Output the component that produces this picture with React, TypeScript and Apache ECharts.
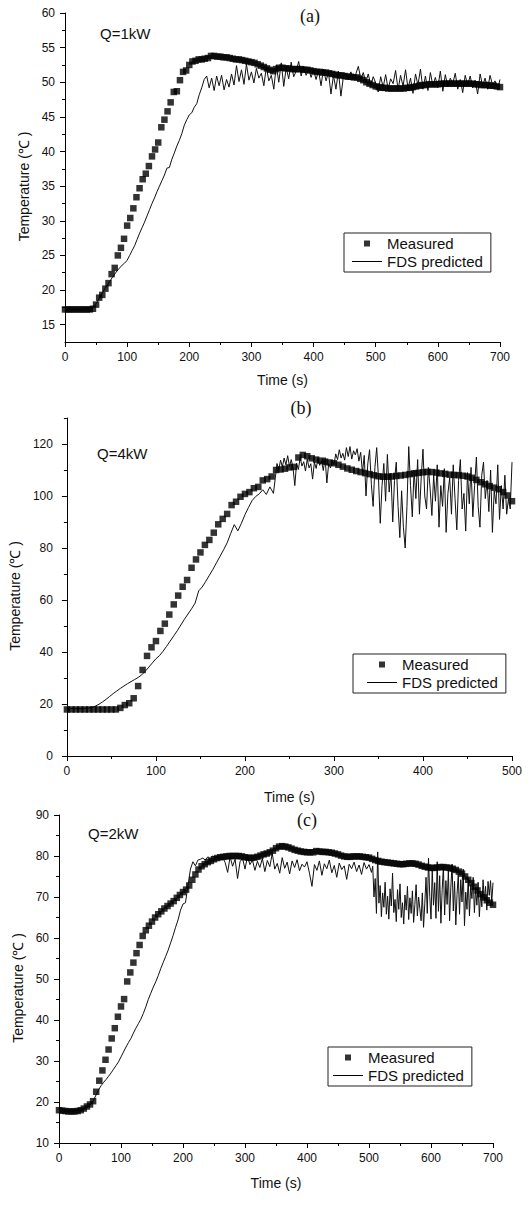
import React, { useEffect, useRef } from 'react';
import * as echarts from 'echarts';

const MEAS_STEP = 5;
const FDS_STEP = 4;
const NOISE_STEP = 2;

// ---- Panel (a) Q=1kW ----
const measuredA = [
  17.2, 17.2, 17.2, 17.2, 17.2, 17.2, 17.2, 17.2, 17.2, 17.3,
  17.9, 18.9, 19.3, 20.2, 21.0, 22.3, 23.2, 25.0, 26.1, 27.4,
  29.3, 30.4, 31.8, 33.4, 34.7, 36.0, 36.8, 37.9, 39.3, 40.3,
  41.3, 43.5, 44.6, 45.8, 47.1, 48.6, 48.7, 50.3, 51.5, 51.7,
  52.5, 53.0, 53.1, 53.3, 53.3, 53.4, 53.5, 53.8, 53.8, 53.7,
  53.7, 53.6, 53.6, 53.5, 53.4, 53.3, 53.3, 53.2, 53.1, 53.0,
  52.9, 52.8, 52.6, 52.4, 52.2, 52.0, 51.8, 51.6, 51.9, 52.1,
  52.1, 52.0, 52.0, 51.9, 51.9, 51.9, 51.9, 51.8, 51.8, 51.7,
  51.6, 51.5, 51.5, 51.4, 51.4, 51.3, 51.2, 51.1, 51.0, 51.0,
  50.9, 50.8, 50.8, 50.7, 50.7, 50.5, 50.3, 50.0, 49.8, 49.6,
  49.4, 49.3, 49.2, 49.2, 49.1, 49.1, 49.1, 49.1, 49.1, 49.1,
  49.2, 49.2, 49.3, 49.4, 49.5, 49.6, 49.6, 49.7, 49.7, 49.7,
  49.7, 49.8, 49.8, 49.8, 49.8, 49.8, 49.8, 49.8, 49.8, 49.8,
  49.8, 49.8, 49.7, 49.7, 49.6, 49.6, 49.6, 49.5, 49.5, 49.4,
  49.3,
];
const fdsA = [
  17.2, 17.2, 17.2, 17.2, 17.2, 17.2, 17.2, 17.2, 17.3, 17.3, 17.4, 17.5,
  17.8, 18.3, 19.0, 19.6, 20.2, 20.7, 21.2, 21.8, 22.3, 22.8,
  23.2, 23.6, 23.9, 24.3, 25.0, 25.7, 26.4, 27.3, 28.2, 29.0,
  29.8, 30.7, 31.6, 32.5, 33.3, 34.2, 35.0, 35.8, 36.6, 37.6,
  37.7, 38.9, 39.8, 40.8, 41.6, 42.6, 43.8, 44.6, 45.3, 45.6,
  46.4, 46.9, 48.2, 49.2, 50.4, 50.9,
  49.2, 50.6, 48.8, 50.9, 49.5, 51.0, 48.9, 50.4, 49.3, 51.2,
  49.6, 52.4, 50.1, 51.8, 49.7, 52.6, 50.3, 51.5, 49.9, 52.0, 50.6, 51.3, 49.5, 52.2, 50.2, 51.0,
  49.0, 52.5, 50.0, 52.8, 49.4, 52.1, 50.5, 52.9, 50.8, 51.6,
  53.0, 50.9, 52.3, 51.0, 52.0, 50.7, 51.8, 50.4, 51.7, 49.5, 51.9, 50.2, 51.4, 48.3, 51.0, 49.0, 51.6, 48.0, 50.8,
  51.3, 50.4, 51.5, 50.6, 51.2, 52.3, 50.5, 51.4, 50.0, 51.2, 49.6, 50.8, 49.9,
  48.6, 50.8, 49.3, 51.1, 49.0, 50.5, 49.8, 51.7, 48.9, 51.0,
  49.4, 51.8, 49.1, 50.6, 48.4, 51.2, 49.6, 51.9, 49.0, 50.9,
  48.8, 51.4, 49.5, 50.7, 49.2, 51.6, 48.7, 51.1, 49.4, 50.6,
  49.8, 51.3, 49.0, 50.4, 48.5, 51.0, 49.6, 50.9, 49.2, 50.3,
  48.3, 51.2, 49.5, 50.6, 49.0, 51.0, 49.6, 50.2, 49.0, 50.4,
];
const fdsANoise: number[] = [];
const yLabelsA = [15, 20, 25, 30, 35, 40, 45, 50, 55, 60];
const yMinorA = [17.5, 22.5, 27.5, 32.5, 37.5, 42.5, 47.5, 52.5, 57.5];

// ---- Panel (b) Q=4kW ----
const measuredB = [
  17.9, 17.9, 17.9, 17.9, 17.9, 17.9, 17.9, 17.9, 17.9, 17.9, 17.9, 17.9,
  18.5, 19.6, 20.3, 22.2, 26.9, 33.1, 38.5, 41.8, 44.2, 48.1,
  50.9, 54.4, 58.3, 61.7, 65.1, 67.7, 72.4, 75.6, 78.3, 81.2,
  83.1, 85.9, 89.1, 91.2, 93.1, 96.5, 97.8, 99.7, 100.8, 101.5,
  103.0, 103.5, 106.0, 106.5, 107.5, 110.0, 110.2, 110.5, 111.0, 111.2,
  114.8, 115.8, 115.3, 114.5, 114.0, 113.6, 113.2, 112.9, 112.6, 112.0,
  111.3, 110.6, 110.1, 109.6, 109.2, 108.8, 108.4, 108.0, 107.6, 107.4,
  107.4, 107.5, 107.7, 107.9, 108.1, 108.4, 108.7, 108.9, 109.1, 109.3,
  109.2, 109.0, 108.7, 108.5, 108.2, 108.1, 108.0, 107.8, 107.5, 107.0,
  106.2, 105.3, 104.5, 103.8, 103.2, 102.6, 101.5, 100.2, 98.0,
];
const fdsB = [
  18.2, 18.2, 18.2, 18.2, 18.2, 18.3, 18.4, 18.7, 19.2, 19.9,
  20.8, 21.8, 22.9, 24.0, 25.0, 26.0, 26.9, 27.8, 28.6, 29.4,
  30.2, 31.2, 32.6, 34.2, 35.8, 37.4, 38.6, 40.3, 42.2, 44.2,
  46.2, 48.2, 50.4, 52.6, 54.6, 56.6, 58.8, 63.5, 65.0, 67.2,
  69.5, 71.8, 74.3, 76.8, 79.3, 82.0, 85.6, 89.0, 86.6, 89.5,
  92.8, 95.6, 98.2, 99.8, 100.8, 102.4, 100.6, 103.5, 101.0,
];
// from t = 236 s, every 2 s
const fdsBNoise = [
  112.5, 110.0, 113.8, 111.2, 114.6, 112.0, 115.5, 111.4, 114.0, 110.8,
  104.0, 112.6, 110.2, 114.8, 111.5, 113.2, 109.6, 114.2, 110.8, 112.4,
  106.5, 113.0, 110.6, 114.4, 111.8, 113.6, 109.8, 114.8, 105.0, 112.4,
  110.8, 113.6, 112.0, 116.2, 114.0, 117.8, 114.6, 116.4, 113.8, 118.6,
  115.2, 119.0, 114.2, 117.4, 115.8, 118.2, 113.4, 116.8, 109.0, 115.6,
  100.0, 112.4, 117.8, 104.5, 96.0, 111.0, 118.6, 107.0, 89.5, 104.0,
  112.5, 98.0, 116.0, 101.5, 108.8, 90.0, 106.0, 113.0, 96.0, 84.0,
  102.0, 88.0, 80.0, 96.0, 119.0, 104.0, 92.0, 110.0, 99.0, 114.0,
  93.0, 107.0, 118.0, 100.0, 95.0, 111.0, 103.0, 92.5, 108.0, 98.0,
  112.0, 88.0, 104.0, 96.0, 110.5, 86.0, 101.0, 107.0, 93.0, 112.0,
  99.0, 87.0, 106.0, 114.0, 95.0, 101.0, 86.5, 109.0, 97.0, 111.0,
  92.0, 104.0, 115.0, 96.0, 88.0, 108.0, 113.0, 99.0, 106.0, 94.0,
  110.0, 86.0, 102.0, 97.0, 112.0, 91.0, 104.0, 95.0, 108.0, 93.0,
  99.0, 95.0, 113.0,
];
const yLabelsB = [0, 20, 40, 60, 80, 100, 120];
const yMinorB = [10, 30, 50, 70, 90, 110, 130];

// ---- Panel (c) Q=2kW ----
const measuredC = [
  18.0, 17.9, 17.8, 17.7, 17.7, 17.7, 17.8, 18.0, 18.4, 18.9,
  19.4, 20.2, 22.5, 25.2, 27.7, 30.3, 32.8, 35.5, 38.0, 40.8,
  43.3, 45.1, 49.4, 51.6, 54.0, 56.3, 58.3, 60.5, 61.9, 63.0,
  64.0, 65.0, 65.8, 66.5, 67.2, 67.8, 68.4, 69.0, 69.8, 70.5,
  71.2, 71.8, 72.8, 74.2, 75.5, 76.7, 77.5, 78.0, 78.5, 78.8,
  79.2, 79.5, 79.7, 79.8, 79.9, 80.0, 80.0, 80.0, 80.0, 79.9,
  79.7, 79.6, 79.5, 79.6, 79.8, 80.1, 80.4, 80.6, 80.9, 81.3,
  81.9, 82.3, 82.4, 82.3, 82.1, 81.8, 81.5, 81.3, 81.1, 81.0,
  80.9, 80.9, 80.9, 81.2, 81.1, 81.0, 81.0, 80.9, 80.8, 80.6,
  80.4, 80.1, 79.9, 79.8, 79.8, 79.9, 79.9, 79.9, 79.8, 79.7,
  79.6, 79.3, 79.0, 78.8, 78.6, 78.5, 78.4, 78.3, 78.2, 78.1,
  78.0, 78.0, 78.1, 78.2, 78.2, 78.1, 77.9, 77.6, 77.4, 77.2,
  77.1, 77.1, 77.2, 77.3, 77.3, 77.2, 77.1, 76.9, 76.6, 76.2,
  75.7, 75.0, 74.2, 73.4, 72.5, 71.6, 70.7, 69.9, 69.2, 68.6,
  68.1,
];
const fdsC = [
  18.0, 17.9, 17.9, 17.8, 17.8, 17.8, 17.8, 17.9, 18.0, 18.1,
  18.3, 18.6, 19.0, 19.6, 20.5, 21.8, 23.0, 24.0, 24.8, 25.5,
  26.3, 27.1, 28.0, 28.9, 29.8, 31.0, 32.2, 33.4, 34.5, 35.5,
  36.8, 38.0, 39.1, 40.2, 41.6, 43.2, 45.0, 46.5, 48.0, 49.3,
  50.8, 52.5, 54.0, 55.5, 57.0, 58.8, 60.6, 62.6, 64.4, 66.8,
  68.3, 68.6, 72.8, 76.8, 78.6, 77.6, 79.0,
  79.2, 79.5, 79.0, 79.8, 79.4, 80.0, 79.6, 79.9, 79.3, 79.7, 78.4,
  76.0, 79.8, 77.5, 79.2, 74.5, 78.6, 79.5, 76.8, 79.9, 77.9, 79.0, 76.5, 78.7, 77.2, 79.4,
  76.2, 78.9, 77.4, 80.6, 76.8, 78.2, 75.8, 79.6, 77.0, 78.5, 75.6, 78.8, 77.2, 79.1, 76.4, 78.0, 77.3, 78.6,
  75.8, 72.6, 77.9, 76.5, 78.8, 75.3, 78.1, 76.9, 79.0, 75.9, 77.7, 74.8, 78.3, 76.7, 77.6, 74.3, 78.0,
  76.9, 78.5, 76.2, 77.8, 75.5, 78.4, 76.8, 77.9, 76.0,
];
// from t = 506 s, every 2 s
const fdsCNoise = [
  77.5, 70.0, 74.5, 66.0, 81.0, 68.5, 72.8, 65.2, 71.0, 67.5,
  73.6, 65.8, 70.2, 64.6, 72.0, 67.8, 75.8, 66.2, 69.4, 64.0,
  71.8, 67.0, 73.2, 65.0, 68.6, 63.4, 70.5, 66.8, 72.6, 64.5,
  69.8, 66.0, 71.5, 63.8, 68.2, 73.0, 65.4, 70.0, 67.2, 64.2,
  71.0, 62.6, 68.5, 74.8, 66.0, 79.5, 70.2, 64.6, 76.8, 68.0,
  73.5, 64.8, 78.6, 66.5, 75.2, 63.6, 71.8, 77.4, 65.6, 74.0,
  68.2, 76.5, 64.2, 72.4, 78.0, 66.6, 73.8, 63.2, 70.6, 75.6,
  65.8, 74.2, 68.8, 76.8, 63.0, 71.2, 67.0, 74.6, 65.4, 72.8,
  69.6, 74.8, 66.2, 72.2, 68.0, 73.6, 65.2, 71.0, 67.6, 74.2,
  69.2, 72.6, 66.8, 73.8, 70.4, 74.0, 68.8, 73.5,
];
const yLabelsC = [10, 20, 30, 40, 50, 60, 70, 80, 90];
const yMinorC = [15, 25, 35, 45, 55, 65, 75, 85];

const SERIES_NAMES = ['Measured', 'FDS predicted'];
const Y_NAME = 'Temperature (℃ )';
const X_NAME = 'Time (s)';

const SANS = '"Liberation Sans", Arial, sans-serif';
const SERIF = '"Liberation Serif", "Times New Roman", serif';

const panels = [
  {
    tag: '(a)', q: 'Q=1kW', meas: measuredA, fds: fdsA, noise: fdsANoise, noiseStart: 704, xMax: 700,
    yMin: 12.5, yMax: 60, yLabels: yLabelsA, yMinor: yMinorA,
    grid: { left: 65, top: 13, width: 435, height: 329 },
    yNameGap: 31, xNameGap: 31, yLabelMargin: 10, xLabelMargin: 9,
    legend: { left: 344, top: 233, padL: 8 },
    tagPos: [310, 16], qPos: [100, 33],
  },
  {
    tag: '(b)', q: 'Q=4kW', meas: measuredB, fds: fdsB, noise: fdsBNoise, noiseStart: 236, xMax: 500,
    yMin: 0, yMax: 130, yLabels: yLabelsB, yMinor: yMinorB,
    grid: { left: 65, top: 418, width: 447, height: 338 },
    yNameGap: 40, xNameGap: 34, yLabelMargin: 14, xLabelMargin: 9,
    legend: { left: 353, top: 654, padL: 14 },
    tagPos: [301, 408], qPos: [97, 453],
  },
  {
    tag: '(c)', q: 'Q=2kW', meas: measuredC, fds: fdsC, noise: fdsCNoise, noiseStart: 506, xMax: 700,
    yMin: 10, yMax: 90, yLabels: yLabelsC, yMinor: yMinorC,
    grid: { left: 59, top: 815, width: 434, height: 328 },
    yNameGap: 32, xNameGap: 33, yLabelMargin: 10, xLabelMargin: 9,
    legend: { left: 328, top: 1047, padL: 5 },
    tagPos: [307, 820], qPos: [88, 833],
  },
];

function buildOption() {
  const grid: any[] = [];
  const xAxis: any[] = [];
  const yAxis: any[] = [];
  const series: any[] = [];
  const legend: any[] = [];
  const graphic: any[] = [];

  panels.forEach((p, i) => {
    grid.push({ ...p.grid, containLabel: false });
    xAxis.push({
      gridIndex: i, type: 'value', min: 0, max: p.xMax, interval: 100,
      axisLine: { show: true, lineStyle: { color: '#000', width: 1 } },
      axisTick: { show: true, length: 5, lineStyle: { color: '#000', width: 1 } },
      minorTick: { show: true, splitNumber: 2, length: 3, lineStyle: { color: '#000', width: 1 } },
      axisLabel: { margin: p.xLabelMargin, color: '#111', fontSize: 12, fontFamily: SANS, showMinLabel: true, showMaxLabel: true },
      splitLine: { show: false }, minorSplitLine: { show: false },
      name: X_NAME, nameLocation: 'middle', nameGap: p.xNameGap,
      nameTextStyle: { color: '#111', fontSize: 14, fontFamily: SANS },
    });
    yAxis.push({
      gridIndex: i, type: 'value', min: p.yMin, max: p.yMax, position: 'left',
      axisLine: { show: true, lineStyle: { color: '#000', width: 1 } },
      axisTick: { show: true, length: 5, customValues: p.yLabels, lineStyle: { color: '#000', width: 1 } },
      axisLabel: { customValues: p.yLabels, margin: p.yLabelMargin, color: '#111', fontSize: 12, fontFamily: SANS },
      splitLine: { show: false },
      name: Y_NAME, nameLocation: 'middle', nameGap: p.yNameGap,
      nameTextStyle: { color: '#111', fontSize: 14, fontFamily: SANS, padding: [0, 18, 0, 0] },
    });
    yAxis.push({
      gridIndex: i, type: 'value', min: p.yMin, max: p.yMax, position: 'left', offset: 0,
      axisLine: { show: false },
      axisTick: { show: true, length: 3, customValues: p.yMinor, lineStyle: { color: '#000', width: 1 } },
      axisLabel: { show: false },
      splitLine: { show: false },
    });
    const fdsData = p.fds.map((v, k) => [k * FDS_STEP, v])
      .concat(p.noise.map((v, k) => [p.noiseStart + k * NOISE_STEP, v]));
    series.push({
      type: 'line', name: SERIES_NAMES[1], xAxisIndex: i, yAxisIndex: 2 * i,
      data: fdsData,
      showSymbol: false, symbol: 'none', silent: true, z: 2,
      lineStyle: { color: '#111', width: 1 }, itemStyle: { color: '#111' },
    });
    series.push({
      type: 'scatter', name: SERIES_NAMES[0], xAxisIndex: i, yAxisIndex: 2 * i,
      data: p.meas.map((v, k) => [k * MEAS_STEP, v]),
      symbol: 'rect', symbolSize: 6.5, silent: true, z: 3,
      itemStyle: { color: '#000' },
    });
    legend.push({
      orient: 'vertical', left: p.legend.left, top: p.legend.top,
      padding: [3, 8, 3, p.legend.padL], itemGap: 3, itemWidth: 30, itemHeight: 6,
      borderColor: '#222', borderWidth: 1, selectedMode: false,
      symbolKeepAspect: true,
      textStyle: { fontSize: 15, fontFamily: SANS, color: '#111' },
      data: [
        { name: SERIES_NAMES[0], icon: 'path://M0,0h1v1h-1z', itemStyle: { color: '#000', borderWidth: 0 } },
        { name: SERIES_NAMES[1], icon: 'path://M0,0h30v1h-30z', itemStyle: { color: '#000', borderWidth: 0 } },
      ],
    });
    graphic.push({
      type: 'text', x: p.tagPos[0], y: p.tagPos[1], silent: true,
      style: { text: p.tag, fontSize: 18, fontFamily: SERIF, fill: '#111', align: 'center', verticalAlign: 'middle', textAlign: 'center', textVerticalAlign: 'middle' },
    });
    graphic.push({
      type: 'text', x: p.qPos[0], y: p.qPos[1], silent: true,
      style: { text: p.q, fontSize: 15, fontFamily: SANS, fill: '#111', align: 'left', verticalAlign: 'middle', textAlign: 'left', textVerticalAlign: 'middle' },
    });
  });

  return {
    animation: false,
    backgroundColor: '#fff',
    grid, xAxis, yAxis, series, legend, graphic,
  };
}

export default function App() {
  const ref = useRef<HTMLDivElement>(null);
  useEffect(() => {
    if (!ref.current) return;
    const chart = echarts.init(ref.current, null, { renderer: 'svg' });
    chart.setOption(buildOption());
    return () => chart.dispose();
  }, []);
  return (
    <div
      ref={ref}
      style={{ position: 'absolute', left: 0, top: 0, width: 531, height: 1205, background: '#fff' }}
    />
  );
}
